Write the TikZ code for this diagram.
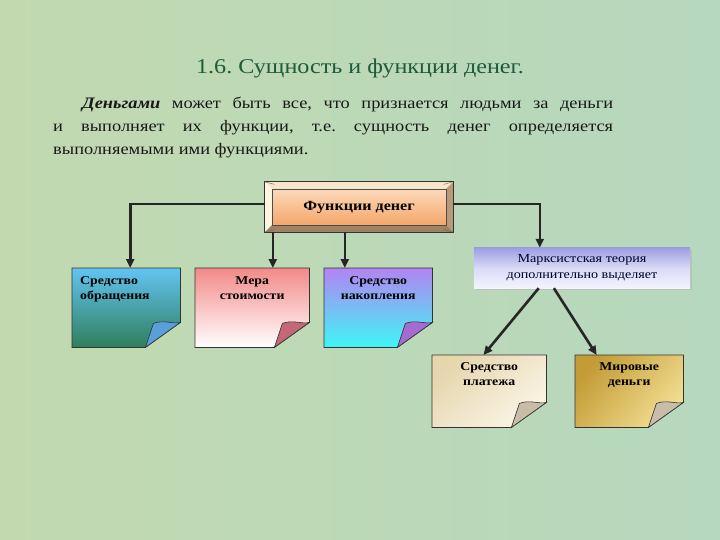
\documentclass[tikz,border=0pt]{standalone}
\usepackage{fontspec}
\setmainfont[FakeStretch=1.15]{Liberation Serif}
\usepackage{xcolor}
\usetikzlibrary{arrows.meta,positioning,calc,backgrounds}
\frenchspacing

\definecolor{bgL}{HTML}{C2D9B0}
\definecolor{bgR}{HTML}{B6D8BE}
\definecolor{titleG}{HTML}{1E5A3C}
\definecolor{faceT}{HTML}{FDE4CC}
\definecolor{faceB}{HTML}{F39C58}
\definecolor{bevLt}{HTML}{F6E6CE}
\definecolor{bevLl}{HTML}{FFF3E2}
\definecolor{bevDr}{HTML}{B89A7A}
\definecolor{bevDb}{HTML}{9E8262}
\definecolor{circT}{HTML}{62C4F2}
\definecolor{circB}{HTML}{2F7F5C}
\definecolor{circF}{HTML}{5A9FDA}
\definecolor{meraT}{HTML}{F28A88}
\definecolor{meraB}{HTML}{FFFFFF}
\definecolor{meraF}{HTML}{C46878}
\definecolor{nakT}{HTML}{B384F2}
\definecolor{nakB}{HTML}{3EF6F6}
\definecolor{nakF}{HTML}{A46CD0}
\definecolor{platT}{HTML}{E6D6AE}
\definecolor{platB}{HTML}{FBF5E6}
\definecolor{mirT}{HTML}{C39C36}
\definecolor{mirB}{HTML}{F2DE92}
\definecolor{paleF}{HTML}{C9BDA8}
\definecolor{marxT}{HTML}{9C9EE2}
\definecolor{marxB}{HTML}{F4F4FE}

\begin{document}
\begin{tikzpicture}[
  x=1pt, y=-1pt,
  >={Triangle[length=9pt,width=8pt]},
  title/.style={font=\fontsize{21}{25}\selectfont, text=titleG, inner sep=0pt},
  para/.style={font=\fontsize{16}{23}\selectfont, text=black!90, align=justify,
               text width=560pt, inner sep=0pt},
  funcbox/.style={minimum width=188pt, minimum height=50pt, inner sep=0pt,
                  font=\bfseries\fontsize{14}{16}\selectfont},
  notebox/.style={anchor=north west, inner sep=0pt},
  notetext/.style={font=\bfseries\fontsize{12}{15}\selectfont, align=center,
                   inner sep=0pt, text=black},
  sheet/.style={draw=black!80, line width=0.8pt},
  fold/.style={draw=black!80, line width=0.6pt},
  link/.style={->, line width=2.6pt, draw=black!85}
]
\useasboundingbox (0,0) rectangle (720,540);

% ---------- headline and text ----------
\node[title] (head) at (360,68) {1.6. Сущность и функции денег.};
\node[para, anchor=north west] (intro) at (53,97) {\hyphenpenalty=10000
  \hspace*{29pt}\textbf{\textit{Деньгами}} может быть все, что признается людьми за деньги\linebreak
  и выполняет их функции, т.е. сущность денег определяется\linebreak
  выполняемыми ими функциями.};

% ---------- boxes ----------
\node[funcbox] (func) at (359,207) {Функции денег};
\node[notebox, minimum width=108pt, minimum height=79pt] (circ) at (72,268) {};
\node[notebox, minimum width=114pt, minimum height=79pt] (mera) at (195,268) {};
\node[notebox, minimum width=108pt, minimum height=79pt] (nakop) at (324,268) {};
\node[notebox, minimum width=216pt, minimum height=40pt,
      font=\fontsize{12.3}{16}\selectfont, align=center, anchor=center,
      text=black!85!blue] (marx) at (582,268) {Марксистская теория\\дополнительно выделяет};
\node[notebox, minimum width=114pt, minimum height=72pt] (plat) at (432,355) {};
\node[notebox, minimum width=108pt, minimum height=72pt] (mir) at (575,355) {};

\node[notetext, anchor=north west, align=left] (circL) at ([shift={(8pt,-8pt)}]circ.north west) {Средство\\обращения};
\node[notetext, below=8pt of mera.north] (meraL) {Мера\\стоимости};
\node[notetext, below=8pt of nakop.north] (nakopL) {Средство\\накопления};
\node[notetext, below=7pt of plat.north] (platL) {Средство\\платежа};
\node[notetext, below=7pt of mir.north] (mirL) {Мировые\\деньги};

% ---------- connectors ----------
\draw[link] ([yshift=3pt]func.west) -| ([xshift=4pt]circ.north);
\draw[link] ([xshift=8pt]func.south west) -- ([xshift=8pt]func.south west |- mera.north);
\draw[link] ([xshift=80pt]func.south west) -- ([xshift=80pt]func.south west |- nakop.north);
\draw[link] ([yshift=3pt]func.east) -| ($(marx.north west)!0.305!(marx.north east)$);
\draw[link] ($(marx.south west)!0.3!(marx.south east)$) -- ($(plat.north west)!0.45!(plat.north east)$);
\draw[link] ($(marx.south west)!0.37!(marx.south east)$) -- ($(mir.north west)!0.2!(mir.north east)$);

% ---------- fills behind the texts ----------
\begin{scope}[on background layer]
  \fill[left color=bgL, right color=bgR] (0,0) rectangle (720,540);

  % bevelled frame
  \fill[top color=faceT, bottom color=faceB] (func.north west) rectangle (func.south east);
  \fill[bevLt] (func.north west) -- (func.north east) -- ([shift={(-7pt,-7pt)}]func.north east)
     -- ([shift={(7pt,-7pt)}]func.north west) -- cycle;
  \fill[bevLl] (func.north west) -- ([shift={(7pt,-7pt)}]func.north west)
     -- ([shift={(7pt,7pt)}]func.south west) -- (func.south west) -- cycle;
  \fill[bevDr] (func.north east) -- (func.south east) -- ([shift={(-7pt,7pt)}]func.south east)
     -- ([shift={(-7pt,-7pt)}]func.north east) -- cycle;
  \fill[bevDb] (func.south west) -- ([shift={(7pt,7pt)}]func.south west)
     -- ([shift={(-7pt,7pt)}]func.south east) -- (func.south east) -- cycle;
  \draw[black!80, line width=0.8pt] (func.north west) rectangle (func.south east);
  \draw[black!70, line width=0.5pt] ([shift={(7pt,-7pt)}]func.north west)
     rectangle ([shift={(-7pt,7pt)}]func.south east);
  \foreach \c in {north west, north east, south west, south east}
    \draw[black!60, line width=0.4pt] (func.\c) -- ($(func.\c)!9.9pt!(func.center)$);

  % marxist note
  \fill[black!30, opacity=0.5] ([shift={(2pt,-2pt)}]marx.north west) rectangle ([shift={(2pt,-2pt)}]marx.south east);
  \fill[top color=marxT, bottom color=marxB, middle color=marxB!70!marxT]
     (marx.north west) rectangle (marx.south east);

  % sheets with a curled corner
  \foreach \n/\ct/\cb/\cf/\ang in {circ/circT/circB/circF/0, mera/meraT/meraB/meraF/0,
                                   nakop/nakT/nakB/nakF/0, plat/platT/platB/paleF/40,
                                   mir/mirT/mirB/paleF/50}{
    \path[sheet, top color=\ct, bottom color=\cb, shading angle=\ang]
      (\n.north west) -- (\n.north east) -- ([yshift=25pt]\n.south east)
      -- ([xshift=-35pt]\n.south east) -- (\n.south west) -- cycle;
    \filldraw[fold, fill=\cf] ([xshift=-35pt]\n.south east) -- ([shift={(-27pt,24pt)}]\n.south east)
      .. controls ([shift={(-17pt,28pt)}]\n.south east) and ([shift={(-7pt,23pt)}]\n.south east)
      .. ([yshift=25pt]\n.south east) -- cycle;
  }
\end{scope}
\end{tikzpicture}
\end{document}
